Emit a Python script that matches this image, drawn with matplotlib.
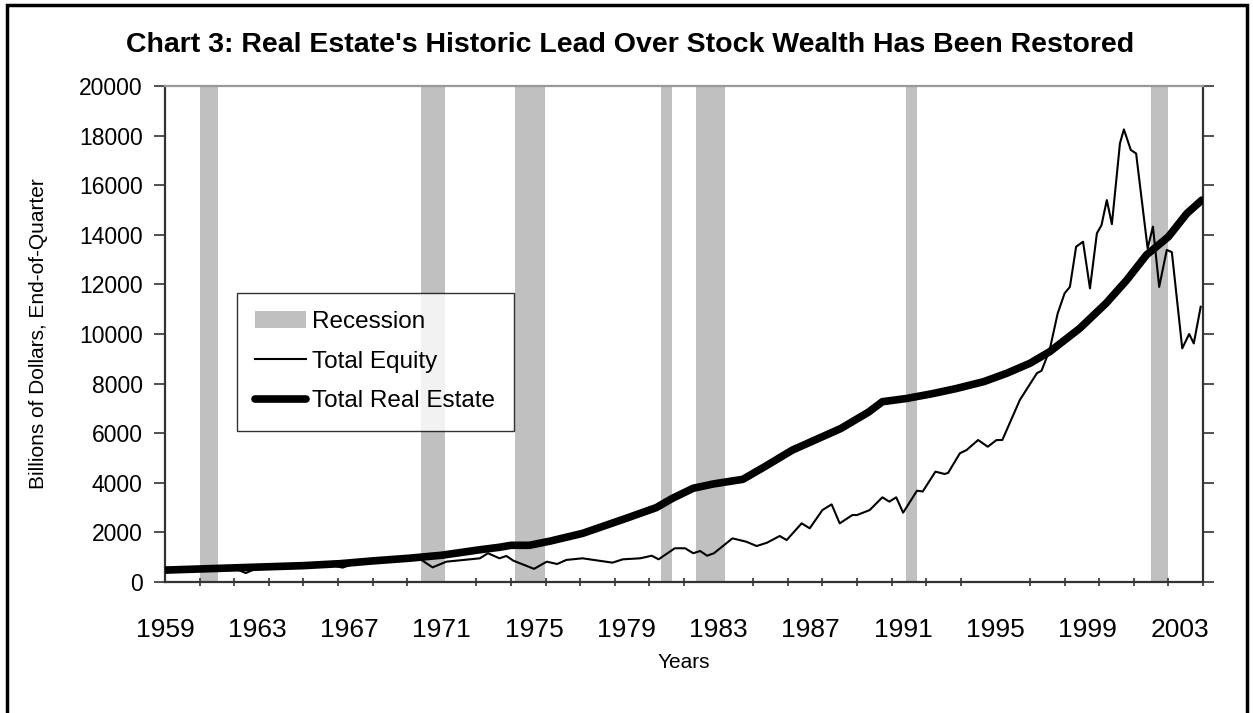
import numpy as np
import matplotlib.pyplot as plt
from matplotlib.patches import Rectangle, Patch
from matplotlib.lines import Line2D

plt.rcParams["font.family"] = ["Liberation Sans", "DejaVu Sans"]

# ── Data (fractional years) ──────────────────────────────────────────────────
RE_YEARS = [1959.0, 1961.0, 1963.0, 1965.0, 1966.6, 1968.0, 1969.6, 1971.0,
            1972.65, 1973.5, 1974.0, 1974.8, 1975.7, 1977.1, 1979.0, 1980.3,
            1981.0, 1981.9, 1982.75, 1984.05, 1985.0, 1986.2, 1988.3, 1989.5,
            1990.1, 1991.15, 1992.3, 1993.3, 1994.5, 1995.5, 1996.5, 1997.36,
            1998.66, 1999.8, 2000.7, 2001.55, 2002.5, 2003.3, 2003.95]
RE_VALUES = [480, 540, 600, 660, 740, 850, 960, 1080,
             1300, 1400, 1480, 1480, 1650, 1960, 2570, 3000,
             3375, 3780, 3950, 4140, 4650, 5320, 6190, 6850,
             7270, 7400, 7600, 7800, 8080, 8420, 8820, 9290,
             10230, 11240, 12180, 13190, 13920, 14860, 15400]

EQ_YEARS = [1959.0, 1960.0, 1961.0, 1962.0, 1962.5, 1963.0, 1964.0, 1965.0,
            1966.0, 1966.7, 1967.2, 1968.0, 1968.8, 1969.5, 1970.1, 1970.6,
            1971.2, 1972.65, 1973.0, 1973.5, 1973.8, 1974.1, 1975.0, 1975.55,
            1976.0, 1976.4, 1977.1, 1978.4, 1978.85, 1979.6, 1980.1, 1980.4,
            1981.1, 1981.55, 1981.9, 1982.2, 1982.5, 1982.8, 1983.6, 1984.2,
            1984.65, 1985.1, 1985.65, 1985.95, 1986.6, 1986.95, 1987.5, 1987.9,
            1988.25, 1988.8, 1989.0, 1989.55, 1990.1, 1990.4, 1990.7, 1991.0,
            1991.6, 1991.85, 1992.4, 1992.8, 1992.95, 1993.46, 1993.75, 1994.25,
            1994.67, 1995.05, 1995.3, 1996.06, 1996.8, 1997.0, 1997.35, 1997.7,
            1998.0, 1998.23, 1998.5, 1998.8, 1999.1, 1999.4, 1999.6, 1999.83,
            2000.05, 2000.4, 2000.57, 2000.87, 2001.1, 2001.6, 2001.83, 2002.1,
            2002.43, 2002.65, 2003.1, 2003.4, 2003.6, 2003.9]
EQ_VALUES = [450, 480, 520, 560, 360, 560, 640, 700,
             720, 580, 740, 820, 900, 880, 900, 590,
             820, 955, 1160, 955, 1050, 860, 530, 820,
             725, 890, 955, 780, 915, 955, 1060, 915,
             1360, 1360, 1160, 1250, 1060, 1160, 1760, 1625,
             1450, 1585, 1855, 1690, 2365, 2165, 2900, 3130,
             2365, 2700, 2700, 2900, 3415, 3240, 3415, 2795,
             3680, 3650, 4450, 4355, 4400, 5190, 5320, 5725,
             5455, 5725, 5725, 7340, 8420, 8520, 9350, 10830,
             11640, 11900, 13520, 13720, 11840, 14060, 14390, 15400,
             14430, 17690, 18250, 17420, 17280, 13450, 14330, 11900,
             13390, 13300, 9420, 10000, 9620, 11100]

REC_START = [1960.52, 1970.10, 1974.17, 1980.50, 1982.02, 1991.12, 2001.74]
REC_END   = [1961.28, 1971.14, 1975.47, 1981.00, 1983.27, 1991.62, 2002.50]

YEAR_LABELS = list(range(1959, 2004, 4))
Y_TICKS = list(range(0, 20001, 2000))

# ── Figure ───────────────────────────────────────────────────────────────────
W, H = 1253, 713
fig = plt.figure(figsize=(W / 100, H / 100), dpi=100)
ax = fig.add_axes([165 / W, 1 - 582 / H, (1203 - 165) / W, (582 - 86) / H])

for s, e in zip(REC_START, REC_END):
    ax.axvspan(s, e, color="#C0C0C0", lw=0, zorder=1)

ax.plot(EQ_YEARS, EQ_VALUES, color="black", lw=1.5, zorder=3,
        solid_joinstyle="round")
ax.plot(RE_YEARS, RE_VALUES, color="black", lw=5.5, zorder=4,
        solid_capstyle="round", solid_joinstyle="round")

ax.set_xlim(1959, 2004)
ax.set_ylim(0, 20000)

# x axis: tick marks every 6 quarters, labels every 4 years
ax.set_xticks(YEAR_LABELS)
ax.set_xticklabels([str(y) for y in YEAR_LABELS], fontsize=19)
ax.set_xticks(np.arange(1959, 2004.01, 1.5), minor=True)
ax.tick_params(axis="x", which="major", length=0, pad=26)
ax.tick_params(axis="x", which="minor", length=6, width=1.2,
               direction="inout", color="#333333")

ax.set_yticks(Y_TICKS)
ax.set_yticklabels([str(v) for v in Y_TICKS], fontsize=16.5)
ax.tick_params(axis="y", which="major", length=8, width=1.2,
               direction="out", color="#333333", pad=8,
               right=True, labelright=False)

for side in ["left", "bottom", "right"]:
    ax.spines[side].set_color("#333333")
    ax.spines[side].set_linewidth(1.6)
ax.spines["top"].set_color("#999999")
ax.spines["top"].set_linewidth(1.6)

ax.set_xlabel("Years", fontsize=15, labelpad=8)
ax.set_ylabel("Billions of Dollars, End-of-Quarter", fontsize=15, labelpad=22)

fig.text(630 / W, 1 - 45 / H,
         "Chart 3: Real Estate's Historic Lead Over Stock Wealth Has Been Restored",
         ha="center", va="center", fontsize=20.5, fontweight="bold")

handles = [Patch(facecolor="#C0C0C0", edgecolor="none"),
           Line2D([], [], color="black", lw=1.5),
           Line2D([], [], color="black", lw=5.5, solid_capstyle="round")]
leg = ax.legend(handles, ["Recession", "Total Equity", "Total Real Estate"],
                loc="upper left",
                bbox_to_anchor=((237 - 165) / 1038, 1 - (293 - 86) / 496),
                fontsize=17.5, frameon=True, fancybox=False, edgecolor="black",
                handlelength=2.1, handletextpad=0.25, labelspacing=0.72,
                borderpad=0.75, borderaxespad=0)
leg.get_frame().set_linewidth(1.0)
leg.set_zorder(6)

# outer border of the chart
fig.patches.append(Rectangle((7 / W, -0.02), (1247 - 7) / W, 1 - 5 / H + 0.02,
                             transform=fig.transFigure, fill=False,
                             edgecolor="black", lw=2.5))

fig.savefig("out.png", dpi=100)
